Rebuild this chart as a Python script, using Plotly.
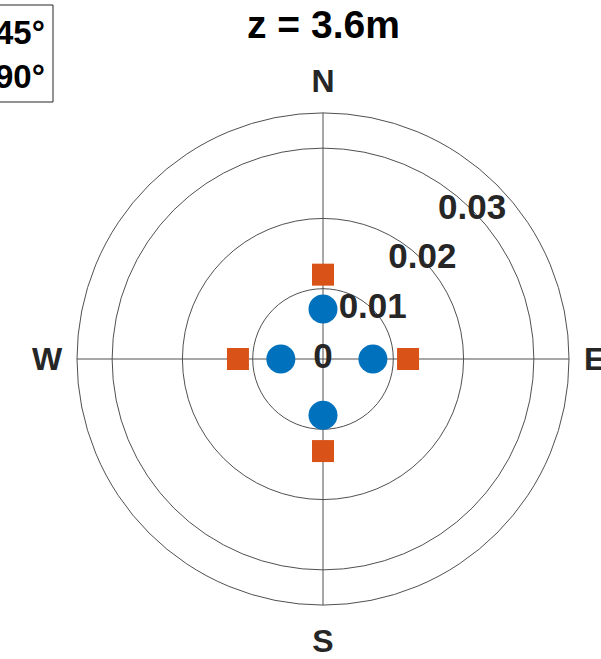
import plotly.graph_objects as go

W, H = 601, 659
FONT = "Liberation Sans"

directions = [0, 90, 180, 270]
dir_labels = ["N", "E", "S", "W"]
r_45 = [0.0071, 0.0071, 0.0080, 0.0060]
r_90 = [0.0120, 0.0121, 0.0131, 0.0121]
r_ticks = [0, 0.01, 0.02, 0.03]
r_tick_labels = ["0", "0.01", "0.02", "0.03"]
r_max = 0.035
legend_names = ["45°", "90°"]
title_text = "z = 3.6m"

fig = go.Figure()
fig.add_trace(go.Scatterpolar(
    r=r_90, theta=directions, mode="markers", name=legend_names[1],
    marker=dict(symbol="square", size=22, color="#D95319", line=dict(width=0)),
    showlegend=False))
fig.add_trace(go.Scatterpolar(
    r=r_45, theta=directions, mode="markers", name=legend_names[0],
    marker=dict(symbol="circle", size=29, color="#0072BD", line=dict(width=0)),
    showlegend=False))
fig.add_trace(go.Scatterpolar(
    r=r_ticks, theta=[45] * len(r_ticks), mode="text",
    text=["<b>" + t + "</b>" for t in r_tick_labels],
    textfont=dict(family=FONT, size=35, color="#262626"),
    textposition="middle center", showlegend=False, hoverinfo="skip",
    cliponaxis=False))

cx0, cx1 = 77 / W, 569 / W
cy0, cy1 = 1 - 605 / H, 1 - 113 / H

fig.update_layout(
    width=W, height=H, margin=dict(l=0, r=0, t=0, b=0),
    paper_bgcolor="white", plot_bgcolor="white",
    font=dict(family=FONT, color="#262626"),
    polar=dict(
        domain=dict(x=[cx0, cx1], y=[cy0, cy1]),
        bgcolor="white",
        radialaxis=dict(range=[0, r_max], tickvals=r_ticks[1:], showticklabels=False,
                        ticks="", showline=False, gridcolor="#505050", gridwidth=1),
        angularaxis=dict(direction="clockwise", rotation=90, tickmode="array",
                         tickvals=directions,
                         ticktext=["<b>" + d + "</b>" for d in dir_labels],
                         ticks="outside", ticklen=8, tickcolor="rgba(0,0,0,0)",
                         showline=True, linecolor="#505050", linewidth=1,
                         gridcolor="#505050", gridwidth=1,
                         tickfont=dict(family=FONT, size=32, color="#262626"))
    ),
    showlegend=False,
)

fig.add_annotation(text="<b>" + title_text + "</b>", xref="paper", yref="paper",
                   x=323 / W, y=1 - 25 / H, xanchor="center", yanchor="middle",
                   showarrow=False, font=dict(family=FONT, size=39, color="black"))

# legend box (cut at the left edge as in the reference)
fig.add_shape(type="rect", xref="paper", yref="paper",
              x0=-0.2, x1=53 / W, y0=1 - 102 / H, y1=1 - 5 / H,
              line=dict(color="#262626", width=1), fillcolor="white", layer="above")
for name, yc in zip(legend_names, [33, 77]):
    fig.add_annotation(text="<b>" + name + "</b>", xref="paper", yref="paper",
                       x=47 / W, y=1 - yc / H, xanchor="right", yanchor="middle",
                       showarrow=False, font=dict(family=FONT, size=33, color="black"))

fig.write_html("out.html")
